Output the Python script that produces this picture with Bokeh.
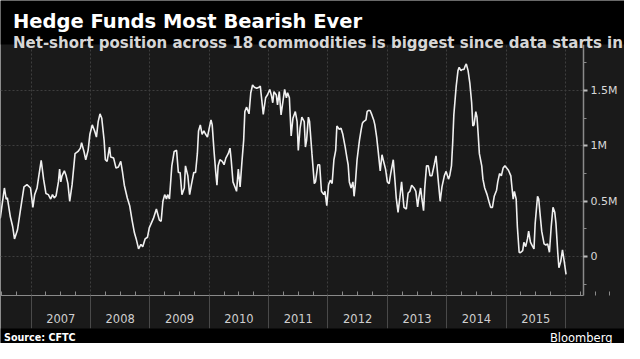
from bokeh.plotting import figure
from bokeh.models import Label, Range1d, FixedTicker, BoxAnnotation
from bokeh.embed import file_html
from bokeh.resources import INLINE

# ---------------- data (net-short position, millions of contracts) ----------------
dates_2006 = [2006.48, 2006.55, 2006.58, 2006.60, 2006.65, 2006.69, 2006.72, 2006.77, 2006.82, 2006.88, 2006.93, 2006.99]
values_2006 = [0.345, 0.62, 0.52, 0.53, 0.36, 0.27, 0.16, 0.24, 0.42, 0.63, 0.65, 0.62]

dates_2007 = [2007.03, 2007.06, 2007.10, 2007.13, 2007.17, 2007.21, 2007.25, 2007.29, 2007.33, 2007.36, 2007.39, 2007.42,
              2007.46, 2007.48, 2007.50, 2007.52, 2007.56, 2007.59, 2007.62, 2007.65, 2007.69, 2007.74, 2007.79, 2007.83,
              2007.85, 2007.89, 2007.92, 2007.96, 2007.99]
values_2007 = [0.445, 0.56, 0.62, 0.73, 0.87, 0.70, 0.57, 0.56, 0.52, 0.56, 0.53, 0.55,
               0.675, 0.79, 0.675, 0.73, 0.775, 0.73, 0.66, 0.50, 0.65, 0.93, 0.95, 0.98,
               1.03, 0.95, 0.875, 0.96, 1.105]

dates_2008 = [2008.03, 2008.07, 2008.10, 2008.13, 2008.16, 2008.19, 2008.23, 2008.25, 2008.28, 2008.32, 2008.34, 2008.39,
              2008.43, 2008.47, 2008.51, 2008.54, 2008.57, 2008.62, 2008.66, 2008.70, 2008.74, 2008.77, 2008.81, 2008.85,
              2008.88, 2008.92, 2008.96, 2008.99]
values_2008 = [1.19, 1.135, 1.08, 1.22, 1.29, 1.25, 1.05, 0.875, 0.86, 0.99, 0.90, 0.89,
               0.80, 0.81, 0.86, 0.76, 0.645, 0.53, 0.46, 0.33, 0.215, 0.16, 0.07, 0.11,
               0.09, 0.16, 0.175, 0.26]

dates_2009 = [2009.06, 2009.11, 2009.16, 2009.19, 2009.22, 2009.25, 2009.28, 2009.30, 2009.33, 2009.37, 2009.41, 2009.45,
              2009.48, 2009.51, 2009.54, 2009.58, 2009.60, 2009.64, 2009.67, 2009.70, 2009.74, 2009.77, 2009.80, 2009.82,
              2009.85, 2009.88, 2009.91, 2009.94, 2009.97]
values_2009 = [0.345, 0.43, 0.33, 0.32, 0.50, 0.56, 0.52, 0.56, 0.52, 0.82, 0.95, 0.96,
               0.76, 0.76, 0.56, 0.62, 0.82, 0.73, 0.56, 0.65, 0.76, 0.76, 0.93, 1.135,
               1.19, 1.105, 1.135, 1.105, 1.08]

dates_2010 = [2010.00, 2010.03, 2010.05, 2010.08, 2010.11, 2010.13, 2010.15, 2010.18, 2010.22, 2010.25, 2010.28, 2010.32,
              2010.35, 2010.37, 2010.40, 2010.44, 2010.46, 2010.49, 2010.52, 2010.55, 2010.58, 2010.60, 2010.63, 2010.67,
              2010.70, 2010.73, 2010.76, 2010.80, 2010.84, 2010.86, 2010.89, 2010.91, 2010.95, 2010.98]
values_2010 = [1.16, 1.235, 1.19, 0.96, 0.76, 0.645, 0.82, 0.875, 0.86, 0.83, 0.89, 0.93,
               0.98, 0.875, 0.675, 0.62, 0.59, 0.79, 0.63, 0.85, 1.05, 1.31, 1.35, 1.29,
               1.48, 1.55, 1.53, 1.52, 1.53, 1.54, 1.39, 1.285, 1.435, 1.46]

dates_2011 = [2011.02, 2011.05, 2011.07, 2011.09, 2011.13, 2011.15, 2011.18, 2011.21, 2011.25, 2011.27, 2011.30, 2011.32,
              2011.35, 2011.38, 2011.41, 2011.45, 2011.48, 2011.50, 2011.53, 2011.56, 2011.60, 2011.62, 2011.64, 2011.67,
              2011.69, 2011.73, 2011.77, 2011.79, 2011.83, 2011.86, 2011.89, 2011.93, 2011.95, 2011.98]
values_2011 = [1.51, 1.45, 1.39, 1.49, 1.46, 1.37, 1.49, 1.28, 1.435, 1.51, 1.435, 1.48,
               1.435, 1.09, 1.25, 1.31, 1.22, 0.96, 1.16, 1.26, 1.22, 0.99, 1.05, 1.26,
               1.22, 0.93, 0.66, 0.675, 0.83, 0.83, 0.59, 0.56, 0.59, 0.46]

dates_2012 = [2012.01, 2012.04, 2012.07, 2012.10, 2012.13, 2012.15, 2012.19, 2012.22, 2012.25, 2012.29, 2012.32, 2012.34,
              2012.36, 2012.39, 2012.42, 2012.44, 2012.46, 2012.49, 2012.53, 2012.56, 2012.58, 2012.60, 2012.64, 2012.66,
              2012.68, 2012.71, 2012.74, 2012.77, 2012.79, 2012.82, 2012.85, 2012.88, 2012.91, 2012.93, 2012.97]
values_2012 = [0.65, 0.69, 0.66, 0.875, 0.96, 1.18, 1.15, 1.16, 1.105, 0.99, 0.89, 0.83,
               0.675, 0.62, 0.675, 0.545, 0.65, 0.875, 1.05, 1.15, 1.205, 1.22, 1.235, 1.31,
               1.32, 1.32, 1.28, 1.235, 1.19, 1.08, 0.93, 0.775, 0.92, 0.875, 0.79]

dates_2013 = [2013.00, 2013.03, 2013.06, 2013.10, 2013.13, 2013.15, 2013.18, 2013.21, 2013.24, 2013.26, 2013.28, 2013.32,
              2013.35, 2013.38, 2013.41, 2013.45, 2013.48, 2013.51, 2013.53, 2013.56, 2013.58, 2013.61, 2013.63, 2013.66,
              2013.69, 2013.72, 2013.75, 2013.79, 2013.82, 2013.85, 2013.89, 2013.92, 2013.96, 2013.99]
values_2013 = [0.675, 0.66, 0.76, 0.875, 0.675, 0.53, 0.40, 0.53, 0.675, 0.56, 0.445, 0.43,
               0.575, 0.59, 0.645, 0.62, 0.59, 0.45, 0.53, 0.62, 0.53, 0.415, 0.62, 0.82,
               0.82, 0.73, 0.73, 0.83, 0.91, 0.73, 0.50, 0.63, 0.73, 0.77]

dates_2014 = [2014.03, 2014.05, 2014.08, 2014.10, 2014.12, 2014.16, 2014.19, 2014.21, 2014.24, 2014.26, 2014.29, 2014.31,
              2014.33, 2014.36, 2014.39, 2014.42, 2014.44, 2014.46, 2014.49, 2014.51, 2014.53, 2014.55, 2014.59, 2014.61,
              2014.64, 2014.68, 2014.71, 2014.74, 2014.77, 2014.80, 2014.84, 2014.86, 2014.89, 2014.92, 2014.95, 2014.98]
values_2014 = [0.70, 0.73, 0.82, 1.02, 1.28, 1.54, 1.68, 1.71, 1.68, 1.69, 1.69, 1.72,
               1.74, 1.68, 1.565, 1.39, 1.18, 1.19, 1.31, 1.26, 1.105, 0.93, 0.82, 0.70,
               0.62, 0.56, 0.50, 0.445, 0.445, 0.545, 0.60, 0.675, 0.75, 0.73, 0.80, 0.82]

dates_2015 = [2015.01, 2015.04, 2015.08, 2015.10, 2015.12, 2015.14, 2015.17, 2015.19, 2015.22, 2015.24, 2015.28, 2015.30,
              2015.33, 2015.36, 2015.38, 2015.41, 2015.44, 2015.47, 2015.49, 2015.53, 2015.55, 2015.57, 2015.60, 2015.64,
              2015.67, 2015.70, 2015.73, 2015.76, 2015.79, 2015.82, 2015.84, 2015.87, 2015.89, 2015.92, 2015.95, 2015.98,
              2016.01]
values_2015 = [0.80, 0.78, 0.73, 0.62, 0.52, 0.59, 0.52, 0.27, 0.04, 0.035, 0.055, 0.13,
               0.09, 0.16, 0.23, 0.13, 0.10, 0.07, 0.30, 0.545, 0.52, 0.40, 0.23, 0.115,
               0.105, 0.115, 0.04, 0.27, 0.445, 0.40, 0.30, 0.04, -0.10, -0.045, 0.06, -0.045,
               -0.16]

year_labels = ["2007", "2008", "2009", "2010", "2011", "2012", "2013", "2014", "2015"]
y_tick_values = [0, 0.5, 1, 1.5]
y_tick_labels = ["0", "0.5M", "1M", "1.5M"]
y_minor_values = [-0.25, 0.25, 0.75, 1.25, 1.75]

TITLE = "Hedge Funds Most Bearish Ever"
SUBTITLE = "Net-short position across 18 commodities is biggest since data starts in"
SOURCE = "Source: CFTC"
BRAND = "Bloomberg"

dates = (dates_2006 + dates_2007 + dates_2008 + dates_2009 + dates_2010 + dates_2011 +
         dates_2012 + dates_2013 + dates_2014 + dates_2015)
values = (values_2006 + values_2007 + values_2008 + values_2009 + values_2010 + values_2011 +
          values_2012 + values_2013 + values_2014 + values_2015)

# ---------------- layout (pixels in the figure) ----------------
W, H = 624, 343
HEAD = 44          # top of plotting area
AXIS_Y = 295       # bottom axis line
BAND_BOTTOM = 328  # bottom of the year band / top of footer
AXIS_X = 583       # right axis line

X_LEFT, X_AXIS = 2006.4844, 2016.304   # visible time span of plotting area
Y_TOP, Y_AXIS = 1.916, -0.351          # visible value span of plotting area

sx = AXIS_X / (X_AXIS - X_LEFT)
sy = (AXIS_Y - HEAD) / (Y_TOP - Y_AXIS)
x_range = Range1d(X_LEFT, X_LEFT + W / sx)
y_range = Range1d(Y_AXIS - (H - AXIS_Y) / sy, Y_TOP + HEAD / sy)
footer_top = Y_AXIS - (BAND_BOTTOM - AXIS_Y) / sy

PLOT_BG = "#1a1a1a"
FONT = "DejaVu Sans"

p = figure(width=W, height=H, x_range=x_range, y_range=y_range,
           output_backend="svg", toolbar_location=None,
           x_axis_location="below", y_axis_location="right",
           min_border=0, min_border_left=0, min_border_right=0,
           min_border_top=0, min_border_bottom=0,
           background_fill_color=PLOT_BG, border_fill_color="#000000",
           outline_line_color=None)

# ---- grids ----
first_year = int(year_labels[0]) - 1
year_bounds = [float(first_year + i) for i in range(len(year_labels) + 2)]
quarter_ticks = [y + q for y in year_bounds for q in (0.25, 0.5, 0.75)]

p.xgrid.ticker = FixedTicker(ticks=year_bounds)
p.ygrid.ticker = FixedTicker(ticks=y_tick_values)
for g in (p.xgrid, p.ygrid):
    g.grid_line_color = "#3e3e3e"
    g.grid_line_dash = "2 2"
    g.grid_line_width = 1
xg, yg = p.xgrid[0], p.ygrid[0]
if hasattr(xg, "cross_bounds"):
    xg.cross_bounds = (Y_AXIS, Y_TOP)
    yg.cross_bounds = (X_LEFT, X_AXIS)
else:
    p.add_layout(BoxAnnotation(left=X_AXIS, fill_color=PLOT_BG, fill_alpha=1,
                               line_color=None, level="underlay"))

# ---- bottom (time) axis, fixed at the foot of the plotting area ----
overrides = {t: "" for t in quarter_ticks}
for lab in year_labels:
    overrides[float(int(lab)) + 0.5] = lab

xax = p.xaxis[0]
xax.fixed_location = Y_AXIS
xax.bounds = (X_LEFT, X_AXIS)
xax.ticker = FixedTicker(ticks=quarter_ticks, minor_ticks=year_bounds)
xax.major_label_overrides = overrides
xax.axis_line_color = "#8a8a8a"
xax.axis_line_width = 1
xax.major_tick_in = 4
xax.major_tick_out = 0
xax.major_tick_line_color = "#8a8a8a"
xax.minor_tick_in = 0
xax.minor_tick_out = BAND_BOTTOM - AXIS_Y
xax.minor_tick_line_color = "#4a4a4a"
xax.major_label_standoff = -15
xax.major_label_text_font = FONT
xax.major_label_text_font_size = "11.5px"
xax.major_label_text_color = "#cfcfcf"

# ---- right (value) axis ----
yax = p.yaxis[0]
yax.fixed_location = X_AXIS
yax.bounds = (Y_AXIS, Y_TOP)
yax.ticker = FixedTicker(ticks=y_tick_values, minor_ticks=y_minor_values)
yax.major_label_overrides = {float(v): lab for v, lab in zip(y_tick_values, y_tick_labels)}
yax.axis_line_color = "#8a8a8a"
yax.axis_line_width = 1.5
yax.major_tick_in = 0
yax.major_tick_out = 4
yax.major_tick_line_width = 2
yax.major_tick_line_color = "#bdbdbd"
yax.minor_tick_in = 0
yax.minor_tick_out = 3
yax.minor_tick_line_color = "#8a8a8a"
yax.major_label_standoff = 3
yax.major_label_text_font = FONT
yax.major_label_text_font_size = "11px"
yax.major_label_text_color = "#d8d8d8"

# ---- the series ----
p.line(x=dates, y=values, line_color="#f0f0f0", line_width=1.6)

# ---- header and footer bands ----
p.add_layout(BoxAnnotation(bottom=Y_TOP, fill_color="#000000", fill_alpha=1, line_color=None))
p.add_layout(BoxAnnotation(top=footer_top, fill_color="#000000", fill_alpha=1, line_color=None))

p.add_layout(Label(x=12.5, y=H - 20.6, x_units="screen", y_units="screen", text=TITLE,
                   text_font=FONT, text_font_style="bold", text_font_size="19.5px",
                   text_color="#ffffff", text_baseline="alphabetic"))
p.add_layout(Label(x=12.5, y=H - 42.1, x_units="screen", y_units="screen", text=SUBTITLE,
                   text_font=FONT, text_font_style="bold", text_font_size="15px",
                   text_color="#d6d6d6", text_baseline="alphabetic"))
p.add_layout(Label(x=3.5, y=6, x_units="screen", y_units="screen", text=SOURCE,
                   text_font=FONT, text_font_style="bold", text_font_size="9.6px",
                   text_color="#ffffff", text_baseline="alphabetic"))
p.add_layout(Label(x=612, y=6, x_units="screen", y_units="screen", text=BRAND,
                   text_font=FONT, text_font_size="11.5px", text_align="right",
                   text_color="#ffffff", text_baseline="alphabetic"))

open("out.html", "w").write(file_html(p, INLINE))
